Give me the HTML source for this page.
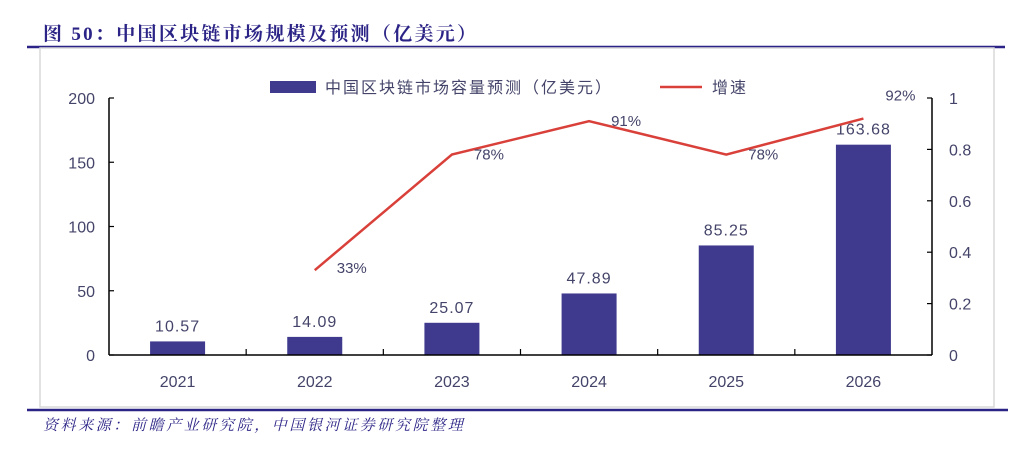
<!DOCTYPE html>
<html><head><meta charset="utf-8">
<style>
body{margin:0;width:1013px;height:444px;background:#fff;overflow:hidden;font-family:"Liberation Sans","Noto Sans CJK SC",sans-serif;}
</style></head>
<body>
<svg width="1013" height="444" xmlns="http://www.w3.org/2000/svg">
<text x="43" y="40" font-size="19" font-weight="bold" fill="#2b2486" letter-spacing="2.3" font-family="'Liberation Serif','Noto Serif CJK SC',serif">图 50：中国区块链市场规模及预测（亿美元）</text>
<line x1="27" y1="47" x2="1005" y2="47" stroke="#2b2486" stroke-width="2.5"/>
<rect x="40" y="48" width="954" height="359" fill="none" stroke="#d9d9d9" stroke-width="1.5"/>
<line x1="27" y1="410" x2="1008" y2="410" stroke="#2b2486" stroke-width="2.5"/>
<text x="43" y="430" font-size="15" font-style="italic" fill="#2b2486" letter-spacing="2.6" font-family="'Liberation Serif','Noto Serif CJK SC',serif">资料来源：前瞻产业研究院，中国银河证券研究院整理</text>
<g id="plot"></g>
</svg>
<script>
const categories=["2021","2022","2023","2024","2025","2026"];
const marketSize=[10.57,14.09,25.07,47.89,85.25,163.68];
const sizeLabels=["10.57","14.09","25.07","47.89","85.25","163.68"];
const growth=[null,0.33,0.78,0.91,0.78,0.92];
const growthLabels=["","33%","78%","91%","78%","92%"];
const leftTicks=[0,50,100,150,200];
const rightTicks=[0,0.2,0.4,0.6,0.8,1];
const rightTickLabels=["0","0.2","0.4","0.6","0.8","1"];

const NS="http://www.w3.org/2000/svg";
const g=document.getElementById('plot');
const X0=109,X1=932,Y0=355,Y1=98;
const band=(X1-X0)/categories.length;
const xc=i=>X0+band*(i+0.5);
const yL=v=>Y0-(v/200)*(Y0-Y1);
const yR=v=>Y0-(v/1)*(Y0-Y1);
function el(t,a,txt){const e=document.createElementNS(NS,t);for(const k in a)e.setAttribute(k,a[k]);if(txt!==undefined)e.textContent=txt;g.appendChild(e);return e;}
const tc="#44446a";
let e;
e=el('line',{x1:X0,y1:Y1,x2:X0,y2:Y0,stroke:'#000','stroke-width':1.5});

e=el('line',{x1:X1,y1:Y1,x2:X1,y2:Y0,stroke:'#000','stroke-width':1.5});

leftTicks.forEach(v=>{
 e=el('line',{x1:X0,y1:yL(v),x2:X0+5,y2:yL(v),stroke:'#000','stroke-width':1.2});
 
 e=el('text',{x:X0-14,y:yL(v)+6,'text-anchor':'end','font-size':16,fill:tc},String(v));
 
});
rightTicks.forEach((v,i)=>{
 e=el('line',{x1:X1-5,y1:yR(v),x2:X1,y2:yR(v),stroke:'#000','stroke-width':1.2});
 
 e=el('text',{x:X1+17,y:yR(v)+6,'font-size':16,fill:tc},rightTickLabels[i]);
 
});
categories.forEach((c,i)=>{
 const h=Y0-yL(marketSize[i]);
 e=el('rect',{x:xc(i)-27.5,y:yL(marketSize[i]),width:55,height:h,fill:'#3f3a8e'});
 
 e=el('text',{x:xc(i),y:yL(marketSize[i])-10,'text-anchor':'middle','font-size':16,fill:tc,'letter-spacing':'1'},sizeLabels[i]);
 
 e=el('text',{x:xc(i),y:Y0+32,'text-anchor':'middle','font-size':16,fill:tc},c);
 
});
e=el('line',{x1:X0,y1:Y0,x2:X1,y2:Y0,stroke:'#000','stroke-width':1.5});

for(let i=1;i<categories.length;i++){
 e=el('line',{x1:X0+band*i,y1:Y0,x2:X0+band*i,y2:Y0-6,stroke:'#000','stroke-width':1.2});
 
}
const pts=[];growth.forEach((v,i)=>{if(v!==null)pts.push(xc(i)+','+yR(v));});
e=el('polyline',{points:pts.join(' '),fill:'none',stroke:'#d9403a','stroke-width':2.5});

growth.forEach((v,i)=>{if(v===null)return;
 const dy=(i===growth.length-1)?-18:(i===1?3:5);
 e=el('text',{x:xc(i)+22,y:yR(v)+dy,'font-size':15,fill:tc},growthLabels[i]);
 
});
e=el('rect',{x:270,y:81,width:46,height:12,fill:'#3f3a8e'});

e=el('text',{x:325,y:93,'font-size':16,fill:tc,'letter-spacing':'2'},'中国区块链市场容量预测（亿美元）');

e=el('line',{x1:660,y1:87,x2:702,y2:87,stroke:'#d9403a','stroke-width':2.5});

e=el('text',{x:712,y:93,'font-size':16,fill:tc,'letter-spacing':'2'},'增速');

</script>
</body></html>
